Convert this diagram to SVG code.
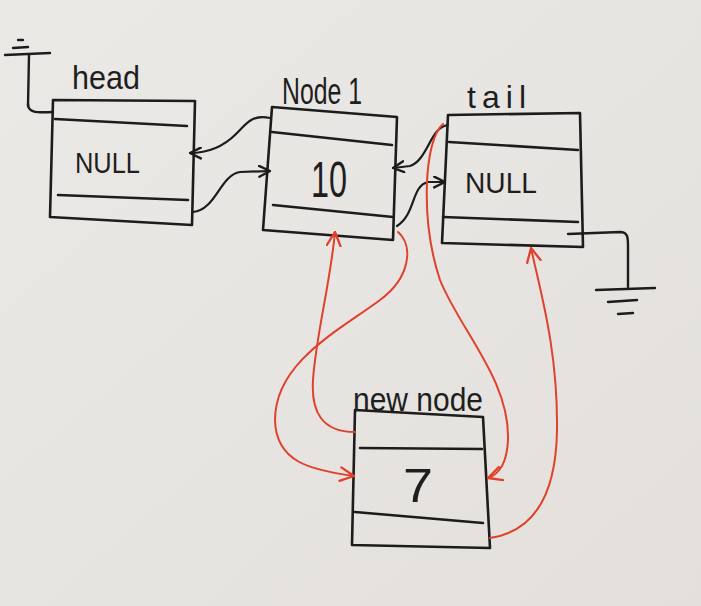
<svg xmlns="http://www.w3.org/2000/svg" width="701" height="606" viewBox="0 0 701 606">
<defs>
<linearGradient id="bg" x1="0" y1="0" x2="1" y2="1">
<stop offset="0" stop-color="#ebe9e6"/>
<stop offset="1" stop-color="#e3e0dc"/>
</linearGradient>
<marker id="ab" viewBox="0 0 12 12" refX="11" refY="6" markerWidth="13" markerHeight="13" markerUnits="userSpaceOnUse" orient="auto">
<path d="M1,1 L11,6 L1,11" fill="none" stroke="#1c1c1c" stroke-width="2.2" stroke-linecap="round" stroke-linejoin="round"/>
</marker>
<marker id="ar" viewBox="0 0 14 14" refX="13" refY="7" markerWidth="16" markerHeight="16" markerUnits="userSpaceOnUse" orient="auto">
<path d="M1,1 L13,7 L1,13" fill="none" stroke="#e0412c" stroke-width="2" stroke-linecap="round" stroke-linejoin="round"/>
</marker>
<style>
.box{fill:none;stroke:#1c1c1c;stroke-width:2.6;stroke-linejoin:round}
.div{fill:none;stroke:#1c1c1c;stroke-width:2.6;stroke-linecap:round}
.lbl{font-family:"Liberation Sans",Arial,sans-serif;fill:#1e1e1e}
.blk{fill:none;stroke:#1c1c1c;stroke-width:2.2;stroke-linecap:round}
.red{fill:none;stroke:#e0412c;stroke-width:2;stroke-linecap:round}
.gnd{fill:none;stroke:#1c1c1c;stroke-width:2.4;stroke-linecap:round}
</style>
</defs>
<rect width="701" height="606" fill="url(#bg)"/>

<g id="ground-head">
<path class="gnd" d="M28,106 L29,55"/>
<path class="gnd" d="M5,55 L50,53"/>
<path class="gnd" d="M13,48 L28,47"/>
<path class="gnd" d="M18,40 L23,40"/>
</g>

<g id="ground-tail">
<path class="gnd" d="M596,290 L655,288"/>
<path class="gnd" d="M608,302 L637,300"/>
<path class="gnd" d="M618,314 L633,313"/>
</g>

<g id="head">
<polygon class="box" points="53,100 195,101 192,225 50,217"/>
<path class="div" d="M55,119 L187,126"/>
<path class="div" d="M58,195 L188,200"/>
<text class="lbl" x="72" y="89" font-size="33" textLength="68" lengthAdjust="spacingAndGlyphs">head</text>
<text class="lbl" x="75" y="173" font-size="30" textLength="65" lengthAdjust="spacingAndGlyphs">NULL</text>
</g>

<g id="node1">
<polygon class="box" points="272,107 397,117 393,240 263,230"/>
<path class="div" d="M272,132 L392,145"/>
<path class="div" d="M273,205 L393,217"/>
<text class="lbl" x="282" y="104" font-size="36" textLength="80" lengthAdjust="spacingAndGlyphs">Node 1</text>
<text class="lbl" x="311" y="197" font-size="50" textLength="36" lengthAdjust="spacingAndGlyphs">10</text>
</g>

<g id="tail">
<polygon class="box" points="448,115 580,113 583,247 442,243"/>
<path class="div" d="M449,142 L578,150"/>
<path class="div" d="M443,217 L578,222"/>
<text class="lbl" x="467" y="108" font-size="32" textLength="59" lengthAdjust="spacing">tail</text>
<text class="lbl" x="465" y="193" font-size="30" textLength="72" lengthAdjust="spacingAndGlyphs">NULL</text>
</g>

<g id="new-node">
<polygon class="box" points="355,410 483,417 490,548 352,545"/>
<path class="div" d="M360,448 L482,449"/>
<path class="div" d="M355,512 L483,523"/>
<text class="lbl" x="353" y="411" font-size="34" textLength="130" lengthAdjust="spacingAndGlyphs">new node</text>
<text class="lbl" x="403" y="502" font-size="48" textLength="30" lengthAdjust="spacingAndGlyphs">7</text>
</g>

<g id="connectors">
<path class="gnd" d="M28,104 C28,112 34,113 53,112"/>
<path class="gnd" d="M568,234 L620,232 C628,232 628,238 628,246 L628,287"/>
<path class="blk" marker-end="url(#ab)" d="M270,118 C252,114 246,124 236,134 C222,148 206,153 190,153"/>
<path class="blk" marker-end="url(#ab)" d="M193,212 C216,210 220,175 240,172 L270,171"/>
<path class="blk" marker-end="url(#ab)" d="M448,125 C430,127 428,160 410,166 L393,168"/>
<path class="blk" marker-end="url(#ab)" d="M397,226 C416,214 411,186 428,182 L445,182"/>
<path class="red" marker-end="url(#ar)" d="M355,432 C322,432 311,412 313,380 C316,335 330,285 335,232"/>
<path class="red" marker-end="url(#ar)" d="M398,232 C414,246 410,278 380,300 C340,330 275,362 275,420 C276,462 310,470 354,476"/>
<path class="red" marker-end="url(#ar)" d="M443,124 C424,140 420,220 440,280 C460,330 510,380 508,440 C507,462 500,474 488,478"/>
<path class="red" marker-end="url(#ar)" d="M490,538 C530,532 556,500 557,430 C558,350 540,290 531,248"/>
</g>
</svg>
